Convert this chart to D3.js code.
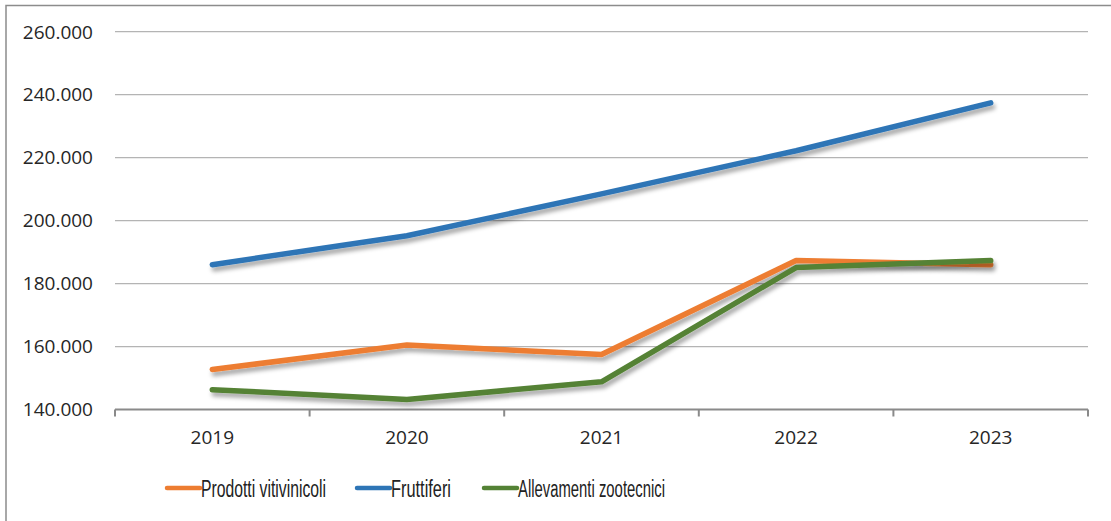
<!DOCTYPE html>
<html>
<head>
<meta charset="utf-8">
<script src="https://cdn.jsdelivr.net/npm/d3@7"></script>
<style>
  html, body { margin: 0; padding: 0; background: #fff; }
  svg { display: block; }
</style>
</head>
<body>
<div id="chart"></div>
<script>
var years = ["2019", "2020", "2021", "2022", "2023"];
var seriesNames = ["Prodotti vitivinicoli", "Fruttiferi", "Allevamenti zootecnici"];
var vitivinicoli = [152700, 160500, 157500, 187300, 186000];
var fruttiferi = [186000, 195200, 208500, 222200, 237400];
var zootecnici = [146300, 143200, 148800, 185100, 187300];
var yTicks = [140000, 160000, 180000, 200000, 220000, 240000, 260000];
var colors = ["#ED7D31", "#2E75B6", "#548235"];

(function() {

  var width = 1111, height = 521,
  margin = { top: 31.7, left: 115, right: 23, bottom: 111.5 },
  innerW = width - margin.left - margin.right,
  innerH = height - margin.top - margin.bottom,
  seriesValues = [vitivinicoli, fruttiferi, zootecnici],
  svg, g, x, y, line, fmt;

  svg = d3.select("#chart").append("svg")
    .attr("width", width)
    .attr("height", height);

  // drop shadow like the office chart
  var defs = svg.append("defs");
  var f = defs.append("filter").attr("id", "shadow")
    .attr("x", "-10%").attr("y", "-50%").attr("width", "120%").attr("height", "200%");
  f.append("feDropShadow")
    .attr("dx", 2).attr("dy", 4).attr("stdDeviation", 2)
    .attr("flood-color", "#000").attr("flood-opacity", 0.35);

  // outer frame
  svg.append("rect")
    .attr("x", 6).attr("y", 5.5)
    .attr("width", width + 10).attr("height", height + 10)
    .attr("fill", "none").attr("stroke", "#8c8c8c").attr("stroke-width", 1.5);

  g = svg.append("g").attr("transform", "translate(" + margin.left + "," + margin.top + ")");

  x = d3.scaleBand().domain(years).range([0, innerW]);
  y = d3.scaleLinear().domain([140000, 260000]).range([innerH, 0]);
  fmt = function(d) { return d3.format(",")(d).replace(/,/g, "."); };

  // gridlines
  g.append("g").selectAll("line")
    .data(yTicks.slice(1))
    .enter().append("line")
      .attr("x1", 0).attr("x2", innerW)
      .attr("y1", function(d) { return y(d); })
      .attr("y2", function(d) { return y(d); })
      .attr("stroke", "#b4b4b4").attr("stroke-width", 1.3);

  // y labels
  g.append("g").selectAll("text")
    .data(yTicks)
    .enter().append("text")
      .attr("x", -22)
      .attr("y", function(d) { return y(d); })
      .attr("dy", "0.36em")
      .attr("text-anchor", "end")
      .attr("font-family", "Open Sans")
      .attr("font-size", 19)
      .attr("fill", "#262626")
      .text(fmt);

  // x axis
  var xAxis = g.append("g").attr("transform", "translate(0," + innerH + ")");
  xAxis.append("line")
    .attr("x1", 0).attr("x2", innerW)
    .attr("stroke", "#8a8a8a").attr("stroke-width", 2);
  xAxis.selectAll(".tick")
    .data(years.concat(["end"]))
    .enter().append("line")
      .attr("x1", function(d, i) { return i * x.bandwidth(); })
      .attr("x2", function(d, i) { return i * x.bandwidth(); })
      .attr("y1", 0).attr("y2", 7)
      .attr("stroke", "#8a8a8a").attr("stroke-width", 2);
  xAxis.selectAll("text")
    .data(years)
    .enter().append("text")
      .attr("x", function(d) { return x(d) + x.bandwidth() / 2; })
      .attr("y", 34)
      .attr("text-anchor", "middle")
      .attr("font-family", "Open Sans")
      .attr("font-size", 19)
      .attr("fill", "#262626")
      .text(function(d) { return d; });

  line = d3.line()
    .x(function(d, i) { return x(years[i]) + x.bandwidth() / 2; })
    .y(function(d) { return y(d); });

  // lines (orange, blue, then green on top)
  g.append("g").selectAll("path")
    .data(seriesValues)
    .enter().append("path")
      .attr("d", line)
      .attr("fill", "none")
      .attr("stroke", function(d, i) { return colors[i]; })
      .attr("stroke-width", 5.5)
      .attr("stroke-linecap", "round")
      .attr("stroke-linejoin", "round")
      .attr("filter", "url(#shadow)");

  // legend
  var legendX = [167, 357, 484];
  var legendW = [125, 60, 147];
  var legend = svg.append("g").selectAll("g")
    .data(seriesNames)
    .enter().append("g")
      .attr("transform", function(d, i) { return "translate(" + legendX[i] + ",488)"; });
  legend.append("line")
    .attr("x1", 0).attr("x2", 33)
    .attr("stroke", function(d, i) { return colors[i]; })
    .attr("stroke-width", 4.5)
    .attr("stroke-linecap", "round");
  legend.append("text")
    .attr("x", 34)
    .attr("y", 8.5)
    .attr("font-family", "Liberation Sans Narrow, Liberation Sans")
    .attr("font-size", 23)
    .attr("fill", "#222")
    .attr("textLength", function(d, i) { return legendW[i]; })
    .attr("lengthAdjust", "spacingAndGlyphs")
    .text(function(d) { return d; });

}());
</script>
</body>
</html>
